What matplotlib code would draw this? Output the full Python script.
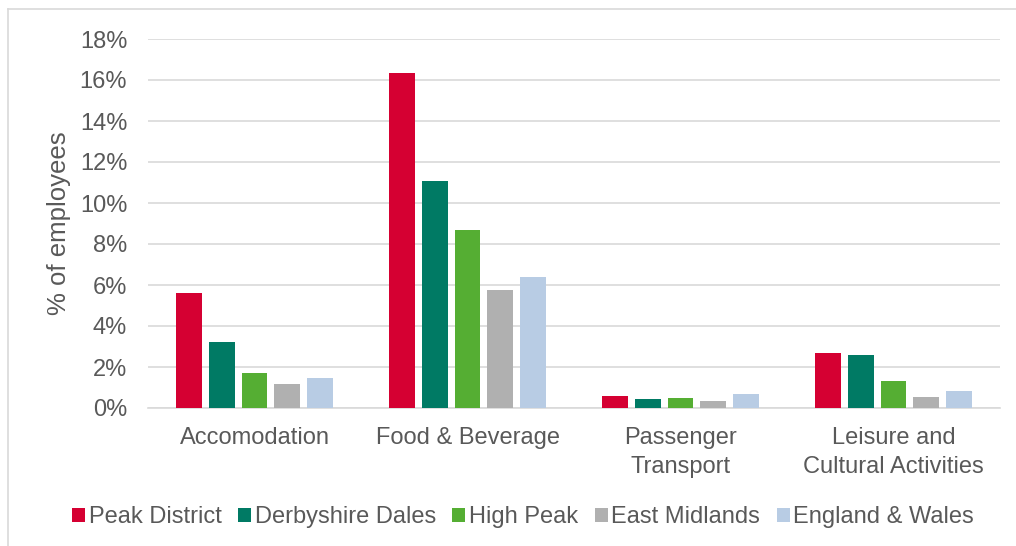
import numpy as np
import matplotlib
matplotlib.use("Agg")
import matplotlib.pyplot as plt
from matplotlib.lines import Line2D

plt.rcParams['font.family'] = ['Liberation Sans', 'DejaVu Sans']

categories = ["Accomodation", "Food & Beverage", "Passenger\nTransport",
              "Leisure and\nCultural Activities"]
series_names = ["Peak District", "Derbyshire Dales", "High Peak",
                "East Midlands", "England & Wales"]
peak_district = [5.6, 16.35, 0.59, 2.70]
derbyshire_dales = [3.22, 11.08, 0.44, 2.59]
high_peak = [1.70, 8.70, 0.47, 1.32]
east_midlands = [1.16, 5.76, 0.34, 0.54]
england_wales = [1.46, 6.38, 0.70, 0.81]
yticks = [0, 2, 4, 6, 8, 10, 12, 14, 16, 18]

series = [peak_district, derbyshire_dales, high_peak, east_midlands, england_wales]
colors = ["#D50032", "#007A64", "#55AE33", "#B0B0B0", "#B8CCE4"]
text_col = "#595959"
grid_col = "#D9D9D9"
fs = 17

fig = plt.figure(figsize=(10.16, 5.46), dpi=100)
ax = fig.add_axes([148 / 1016, 1 - 408 / 546, (1000 - 148) / 1016, (408 - 39) / 546])

x = np.arange(len(categories))
width = 0.122
step = 0.1535
for i, (vals, col, name) in enumerate(zip(series, colors, series_names)):
    ax.bar(x + (i - 2) * step, vals, width=width, color=col, label=name, zorder=3)

ax.set_xlim(-0.5, len(categories) - 0.5)
ax.set_ylim(0, 18)
ax.set_yticks(yticks)
ax.set_yticklabels([f"{t}%" for t in yticks], fontsize=fs, color=text_col)
ax.set_xticks(x)
ax.set_xticklabels(categories, fontsize=fs, color=text_col, linespacing=1.4)
ax.tick_params(axis='x', length=0, pad=14)
ax.tick_params(axis='y', length=0, pad=15)
ax.yaxis.grid(True, color=grid_col, linewidth=1.2, zorder=0)
for side in ("top", "right", "left"):
    ax.spines[side].set_visible(False)
ax.spines["bottom"].set_color(grid_col)
ax.spines["bottom"].set_linewidth(1.2)
ax.set_ylabel("% of employees", fontsize=18.5, color=text_col, labelpad=6)

leg = fig.legend(loc="center", bbox_to_anchor=(523 / 1016, 1 - 517 / 546), ncol=5,
                 frameon=False, fontsize=fs, handlelength=0.55, handleheight=0.55,
                 handletextpad=0.15, columnspacing=0.7, borderpad=0)
for t in leg.get_texts():
    t.set_color(text_col)

# outer frame edges
fig.add_artist(Line2D([8 / 1016, 1], [1 - 9 / 546, 1 - 9 / 546],
                      transform=fig.transFigure, color="#D9D9D9", linewidth=1.2))
fig.add_artist(Line2D([8 / 1016, 8 / 1016], [0, 1 - 9 / 546],
                      transform=fig.transFigure, color="#D9D9D9", linewidth=1.2))

fig.savefig("out.png", dpi=100, facecolor="white")
